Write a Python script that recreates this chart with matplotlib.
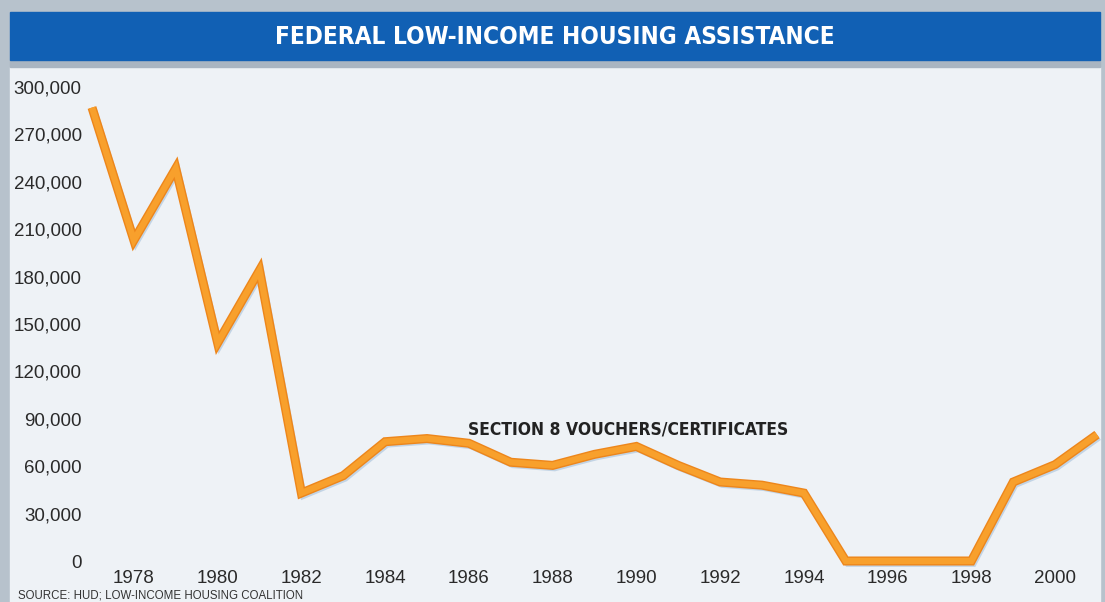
import matplotlib.pyplot as plt
import matplotlib.patheffects as pe
from matplotlib.patches import Rectangle

years = list(range(1977, 2002))
units = [287000, 203000, 248500, 138000, 184000, 43000, 54000, 75500, 77500,
         74500, 62500, 60500, 67500, 72500, 60500, 50000, 48000, 43000,
         0, 0, 0, 0, 50000, 61000, 80000]

yticks = [0, 30000, 60000, 90000, 120000, 150000, 180000, 210000, 240000, 270000, 300000]
xticks = list(range(1978, 2001, 2))

W, H = 1105, 602
fig = plt.figure(figsize=(W / 100, H / 100), dpi=100, facecolor='#b7c2cc')

# frame: light panel, blue title band, grey strip under it
fig.patches.append(Rectangle((10 / W, 0), 1090 / W, (H - 67) / H,
                             transform=fig.transFigure, color='#eef2f6', zorder=-2))
fig.patches.append(Rectangle((10 / W, (H - 67) / H), 1090 / W, 7 / H,
                             transform=fig.transFigure, color='#a9b5c1', zorder=-2))
fig.patches.append(Rectangle((10 / W, (H - 60) / H), 1090 / W, 48 / H,
                             transform=fig.transFigure, color='#1160b4', zorder=-2))
fig.text(555 / W, (H - 37) / H, 'FEDERAL LOW-INCOME HOUSING ASSISTANCE',
         ha='center', va='center', color='white', fontsize=17.5, fontweight='bold',
         family='DejaVu Sans', fontstretch='condensed')

# plotting area in pixels: x 90..1100, y 75..566 (from top)
ax = fig.add_axes([90 / W, (H - 566) / H, 1010 / W, 491 / H])
ax.set_facecolor('none')
px_year = 1009 / 24
ax.set_xlim(1977 - 2 / px_year, 2001 + 3 / px_year)
px_unit = 474 / 300000
ax.set_ylim(-5 / px_unit, (561 - 75) / px_unit)

ax.plot(years, units, color='#f8a02c', lw=4.5, solid_joinstyle='miter',
        solid_capstyle='butt', clip_on=False, zorder=3,
        path_effects=[pe.SimpleLineShadow(offset=(1.5, -2), shadow_color='#9fbcd8', alpha=0.55),
                      pe.Stroke(linewidth=6.5, foreground='#ed861b'),
                      pe.Normal()])

ax.text(1989.8, 83000, 'SECTION 8 VOUCHERS/CERTIFICATES', ha='center', va='center',
        fontsize=12.5, fontweight='bold', color='#222222',
        family='DejaVu Sans', fontstretch='condensed')

ax.set_yticks(yticks)
ax.set_yticklabels([f'{v:,}' for v in yticks])
ax.set_xticks(xticks)
ax.set_xticklabels([str(y) for y in xticks])
ax.tick_params(length=0, labelsize=13.5, labelcolor='#2a2a2a')
ax.tick_params(axis='y', pad=6)
ax.tick_params(axis='x', pad=3)
for lab in ax.get_xticklabels() + ax.get_yticklabels():
    lab.set_family('Liberation Sans')
for s in ax.spines.values():
    s.set_visible(False)

fig.text(18 / W, 0, 'SOURCE: HUD; LOW-INCOME HOUSING COALITION', ha='left', va='bottom',
         fontsize=8.3, color='#333333', family='Liberation Sans')

fig.savefig('out.png', dpi=100, facecolor=fig.get_facecolor())
